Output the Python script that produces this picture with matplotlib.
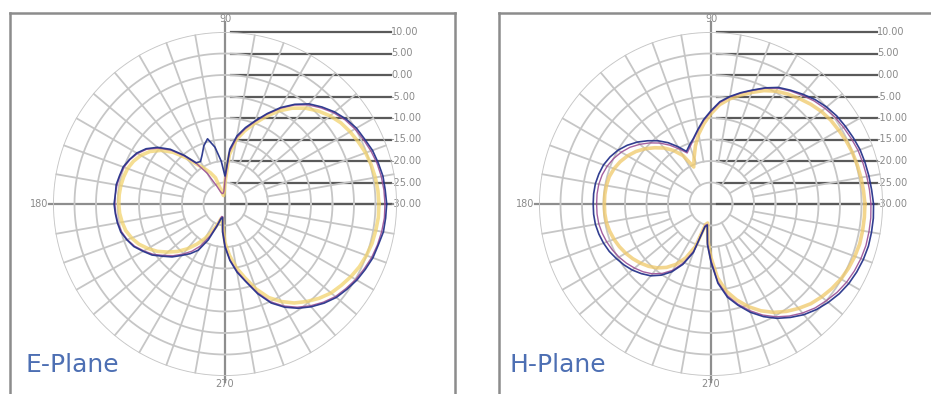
import numpy as np
import matplotlib.pyplot as plt

# measured pattern (dB) every 5 degrees, 0..355
angles_deg = np.arange(0, 360, 5)

e_blue = [7.6, 7.4, 7.3, 6.9, 6.5, 5.8, 5.3, 4.4, 3.3, 1.9, 0.4, -1.7, -4.1, -6.8, -9.4, -11.6, -13.9, -17.2,
          -23.5, -20.0, -16.6, -14.3, -15.6, -17.4, -18.6, -18.3, -15.2, -12.0, -9.5, -7.6, -6.3, -5.5, -4.8, -4.6, -4.3, -4.4,
          -4.2, -4.4, -4.6, -4.9, -5.7, -6.6, -8.0, -9.3, -11.1, -12.6, -14.4, -15.9, -17.6, -20.8, -24.5, -26.5, -26.8, -23.5,
          -20.0, -16.8, -13.9, -11.3, -7.8, -4.6, -2.3, -0.4, 1.2, 2.6, 3.8, 4.6, 5.4, 6.0, 6.6, 6.9, 7.4, 7.5]
e_purple = [7.2, 7.1, 6.9, 6.6, 6.1, 5.5, 4.9, 4.1, 3.0, 1.6, 0.1, -1.9, -4.3, -7.0, -9.6, -11.9, -14.3, -17.8,
            -24.5, -27.0, -27.5, -27.5, -27.0, -25.3, -21.8, -18.6, -15.5, -12.3, -9.8, -7.8, -6.5, -5.6, -5.0, -4.7, -4.5, -4.4,
            -4.4, -4.5, -4.7, -5.1, -5.8, -6.8, -8.2, -9.6, -11.4, -13.0, -14.8, -16.6, -18.8, -21.8, -25.0, -27.0, -27.0, -24.0,
            -20.3, -17.0, -14.2, -11.5, -8.1, -4.9, -2.6, -0.7, 0.9, 2.3, 3.5, 4.3, 5.1, 5.7, 6.3, 6.7, 7.0, 7.2]
e_yellow = [5.8, 5.7, 5.5, 5.2, 4.8, 4.2, 3.6, 2.9, 1.9, 0.6, -0.9, -2.8, -5.0, -7.6, -10.1, -12.4, -14.8, -18.5,
            -25.0, -27.5, -28.0, -27.0, -23.5, -22.0, -20.5, -18.8, -16.0, -13.0, -10.6, -8.7, -7.4, -6.5, -5.9, -5.6, -5.4, -5.3,
            -5.3, -5.4, -5.7, -6.1, -6.9, -7.9, -9.3, -10.8, -12.6, -14.4, -16.4, -18.6, -20.8, -23.0, -25.0, -26.5, -26.5, -24.5,
            -21.0, -18.0, -15.0, -12.3, -9.0, -6.0, -3.8, -1.9, -0.4, 1.0, 2.2, 3.0, 3.8, 4.5, 5.0, 5.4, 5.6, 5.8]

h_blue = [7.8, 7.5, 7.3, 7.1, 6.9, 6.5, 6.1, 5.7, 5.1, 4.3, 3.3, 2.3, 1.3, -0.2, -1.8, -3.2, -4.6, -6.1,
          -8.3, -10.3, -12.4, -14.2, -15.4, -16.5, -14.6, -12.6, -10.8, -9.2, -7.6, -6.2, -5.0, -4.1, -3.4, -3.0, -2.7, -2.6,
          -2.6, -2.6, -2.7, -3.0, -3.4, -3.9, -4.6, -5.3, -6.1, -7.1, -8.2, -9.8, -11.8, -14.5, -18.0, -24.5, -25.0, -20.5,
          -16.5, -11.5, -8.0, -5.6, -3.2, -1.1, 0.7, 2.2, 3.6, 4.7, 5.6, 6.4, 7.0, 7.4, 7.7, 7.9, 7.9, 7.9]
h_purple = [7.2, 7.0, 6.8, 6.6, 6.4, 6.0, 5.6, 5.2, 4.6, 3.9, 3.0, 2.1, 1.1, -0.3, -1.9, -3.3, -4.7, -6.3,
            -8.5, -10.5, -12.6, -14.4, -15.8, -16.9, -15.2, -13.3, -11.5, -9.9, -8.4, -7.0, -5.9, -5.0, -4.3, -3.8, -3.5, -3.4,
            -3.4, -3.4, -3.5, -3.8, -4.2, -4.7, -5.3, -6.0, -6.8, -7.7, -8.8, -10.3, -12.2, -14.9, -18.4, -24.8, -25.2, -20.8,
            -16.8, -11.8, -8.4, -5.9, -3.6, -1.5, 0.3, 1.8, 3.1, 4.2, 5.0, 5.8, 6.4, 6.8, 7.1, 7.3, 7.3, 7.3]
h_yellow = [5.8, 5.6, 5.4, 5.2, 5.0, 4.7, 4.3, 4.0, 3.5, 2.8, 2.0, 1.2, 0.3, -0.9, -2.4, -3.8, -5.2, -6.8,
            -9.0, -11.2, -13.5, -16.0, -18.5, -20.5, -17.0, -14.8, -13.0, -11.5, -10.0, -8.7, -7.6, -6.7, -6.0, -5.5, -5.3, -5.2,
            -5.2, -5.2, -5.3, -5.6, -6.0, -6.5, -7.1, -7.8, -8.6, -9.5, -10.6, -12.0, -13.8, -16.2, -19.5, -25.0, -25.5, -21.5,
            -17.5, -12.8, -9.4, -6.9, -4.6, -2.6, -0.9, 0.5, 1.7, 2.8, 3.6, 4.3, 4.9, 5.3, 5.6, 5.8, 5.8, 5.8]

ring_levels = [-25, -20, -15, -10, -5, 0, 5, 10]
scale_labels = ["10.00", "5.00", "0.00", "-5.00", "-10.00", "-15.00", "-20.00", "-25.00", "-30.00"]
scale_levels = [10, 5, 0, -5, -10, -15, -20, -25, -30]
angle_labels = ["90", "180", "270"]

R_MIN, R_MAX = -30, 10
W, H = 931, 394
R_PX = 172
GRID_C = "#c6c6c6"
AXIS_C = "#8e8e8e"
LINE_C = "#5a5a5a"
TXT_C = "#8a8a8a"


def draw_panel(fig, frame_px, center_px, traces, title, title_px):
    fx0, fy0, fx1, fy1 = frame_px
    frame = fig.add_axes([fx0 / W, 1 - fy1 / H, (fx1 - fx0) / W, (fy1 - fy0) / H], zorder=0)
    frame.set_xticks([])
    frame.set_yticks([])
    for s in frame.spines.values():
        s.set_color("#8c8c8c")
        s.set_linewidth(1.8)

    cx, cy = center_px
    rect = [(cx - R_PX) / W, (H - cy - R_PX) / H, 2 * R_PX / W, 2 * R_PX / H]

    # overlay in pixel units around the centre: axis lines and the dB scale bars
    ov = fig.add_axes(rect, zorder=1)
    ov.set_xlim(-R_PX, R_PX)
    ov.set_ylim(-R_PX, R_PX)
    ov.axis("off")
    ov.plot([0, 0], [-178, 182], color=AXIS_C, lw=1.6, clip_on=False)
    ov.plot([-176, 168], [0, 0], color=AXIS_C, lw=1.6, clip_on=False)
    px_per_db = R_PX / (R_MAX - R_MIN)
    for lab, lv in zip(scale_labels, scale_levels):
        y = (lv - R_MIN) * px_per_db
        ov.plot([6, 166], [y, y], color=LINE_C, lw=1.6, clip_on=False)
        ov.text(166, y, lab, fontsize=7, color=TXT_C, ha="left", va="center", clip_on=False)
    ov.text(0, 185, angle_labels[0], fontsize=7, color=TXT_C, ha="center", va="center")
    ov.text(-186, 0, angle_labels[1], fontsize=7, color=TXT_C, ha="center", va="center")
    ov.text(0, -180, angle_labels[2], fontsize=7, color=TXT_C, ha="center", va="center")

    ax = fig.add_axes(rect, projection="polar", zorder=2)
    ax.patch.set_alpha(0)
    ax.set_theta_zero_location("E")
    ax.set_ylim(R_MIN, R_MAX)
    ax.grid(False)
    ax.set_xticks([])
    ax.set_yticks([])
    ax.spines["polar"].set_visible(False)

    th = np.linspace(0, 2 * np.pi, 361)
    for lv in ring_levels:
        ax.plot(th, np.full_like(th, lv), color=GRID_C, lw=1.3, zorder=1)
    for a in range(0, 360, 10):
        if a % 90 == 0:
            continue
        r0 = -25 if a % 30 == 0 else -20
        ax.plot([np.radians(a)] * 2, [r0, R_MAX], color=GRID_C, lw=1.3, zorder=1)

    t = np.radians(np.append(angles_deg, 360))
    for vals, color, lw, alpha in traces:
        r = np.append(vals, vals[0])
        ax.plot(t, r, color=color, lw=lw, alpha=alpha, zorder=3)

    fig.text(title_px[0] / W, 1 - title_px[1] / H, title, fontsize=18,
             color="#4d6fb3", ha="left", va="baseline", zorder=5)


fig = plt.figure(figsize=(W / 100, H / 100), dpi=100)

e_traces = [(e_yellow, "#f2d36e", 2.6, 0.75), (e_purple, "#9a4f95", 1.0, 0.9), (e_blue, "#27348b", 1.2, 0.95)]
h_traces = [(h_yellow, "#f0c969", 2.6, 0.75), (h_purple, "#9a4f95", 1.0, 0.9), (h_blue, "#27348b", 1.2, 0.95)]

draw_panel(fig, (10, 13, 455, 410), (225, 204), e_traces, "E-Plane", (25, 372))
draw_panel(fig, (499, 13, 945, 410), (711, 204), h_traces, "H-Plane", (509, 372))

fig.savefig("out.png", dpi=100)
